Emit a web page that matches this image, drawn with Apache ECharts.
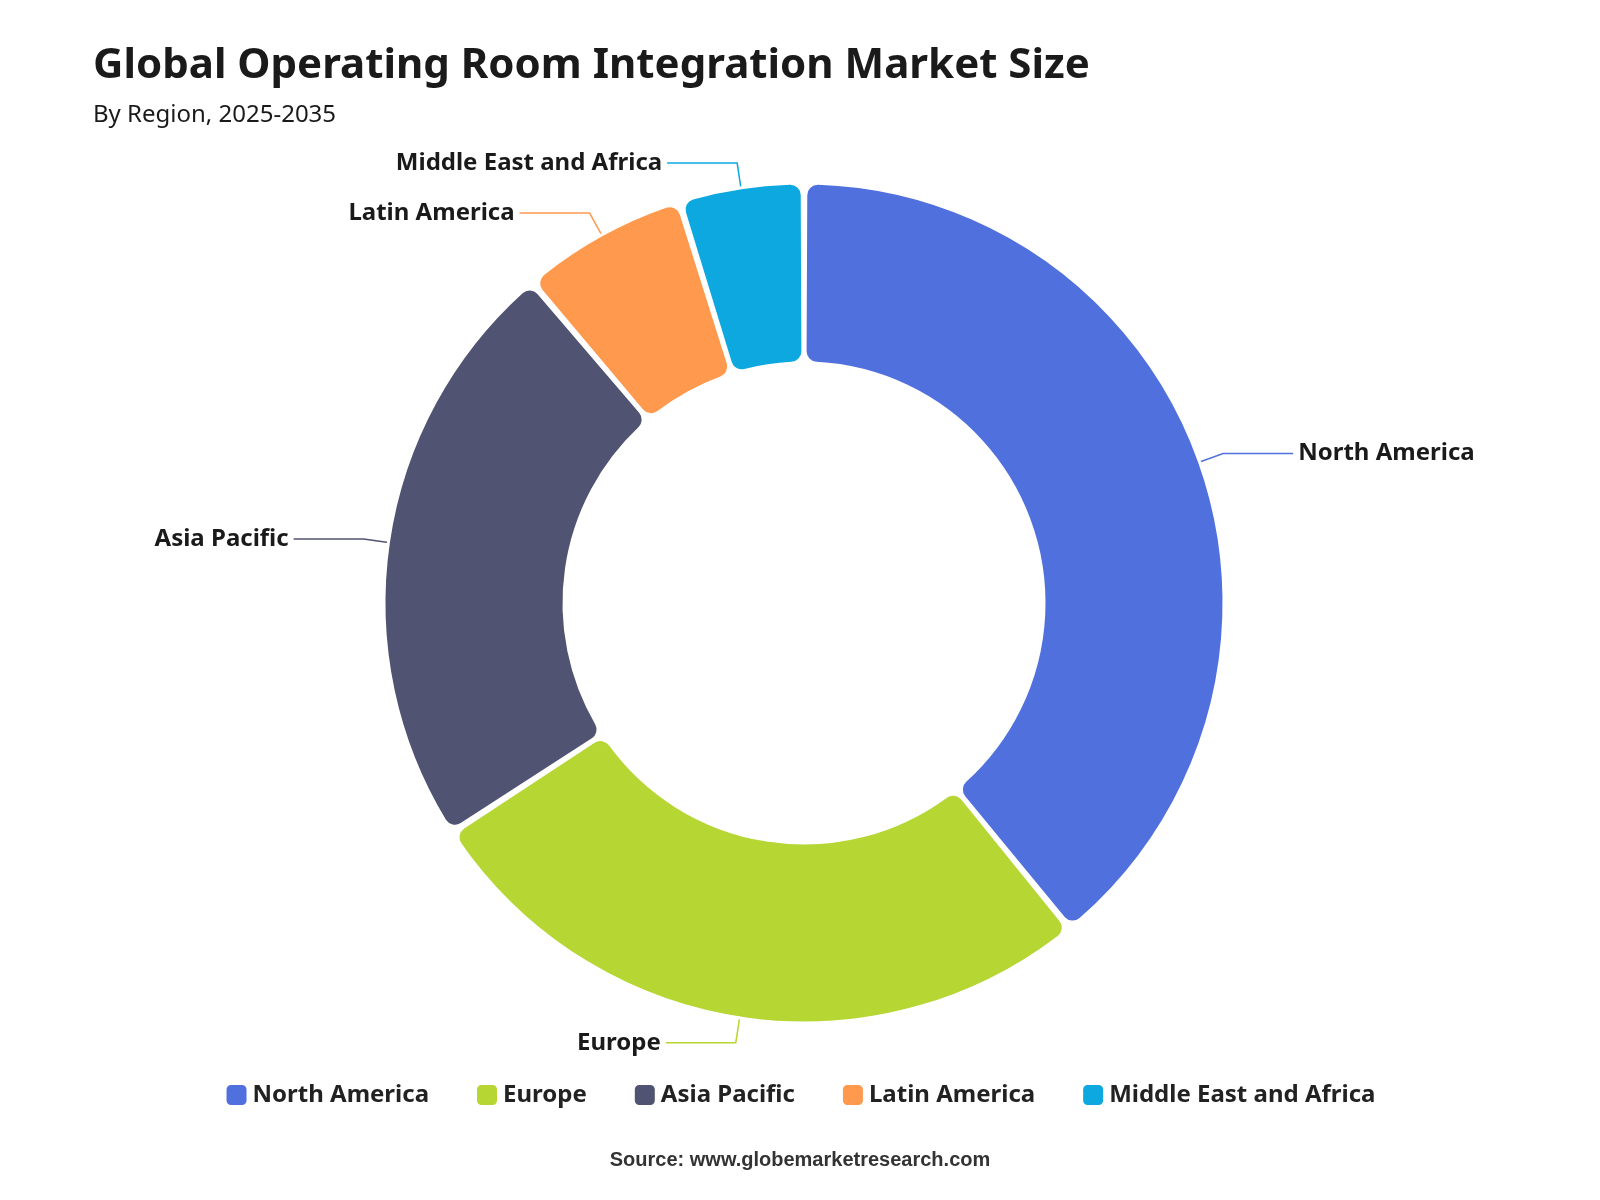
<!DOCTYPE html>
<html>
<head>
<meta charset="utf-8">
<script src="https://cdn.jsdelivr.net/npm/echarts@6/dist/echarts.min.js"></script>
<style>html,body{margin:0;padding:0;background:#fff}#main{width:1600px;height:1200px}</style>
</head>
<body>
<div id="main"></div>
<script>
var regions = ['North America', 'Europe', 'Asia Pacific', 'Latin America', 'Middle East and Africa'];
var shares = [39.1, 26.7, 23.0, 6.4, 4.8];
var colors = ['#5070DD', '#B6D634', '#505372', '#FF994D', '#0CA8DF'];

var pieData = [];
for (var i = 0; i < regions.length; i++) {
    pieData.push({ name: regions[i], value: shares[i] });
}

var chart = echarts.init(document.getElementById('main'));
chart.setOption({
    color: colors,
    textStyle: { fontFamily: 'Noto Sans, sans-serif' },
    title: {
        text: 'Global Operating Room Integration Market Size',
        subtext: 'By Region, 2025-2035',
        left: 88,
        top: 40,
        itemGap: 16,
        textStyle: { fontSize: 42, fontWeight: 'bold', color: '#1a1a1a' },
        subtextStyle: { fontSize: 24, color: '#1a1a1a' }
    },
    legend: {
        bottom: 88,
        left: 'center',
        icon: 'roundRect',
        itemWidth: 22,
        itemHeight: 22,
        itemGap: 46,
        textStyle: { fontSize: 24, fontWeight: 'bold', color: '#222' },
        data: regions
    },
    graphic: [{
        type: 'text',
        left: 'center',
        bottom: 30,
        style: { text: 'Source: www.globemarketresearch.com', fontSize: 20, fontWeight: 'bold', fill: '#333' }
    }],
    series: [{
        type: 'pie',
        center: [804, 603],
        radius: ['40%', '70%'],
        startAngle: 90,
        padAngle: 0.5,
        itemStyle: { borderRadius: 12, borderColor: '#fff', borderWidth: 3 },
        label: { show: true, fontSize: 24, fontWeight: 'bold', color: '#1a1a1a', formatter: '{b}' },
        labelLine: { length: 25, length2: 70, lineStyle: { width: 1.5 } },
        data: pieData
    }]
});
</script>
</body>
</html>
